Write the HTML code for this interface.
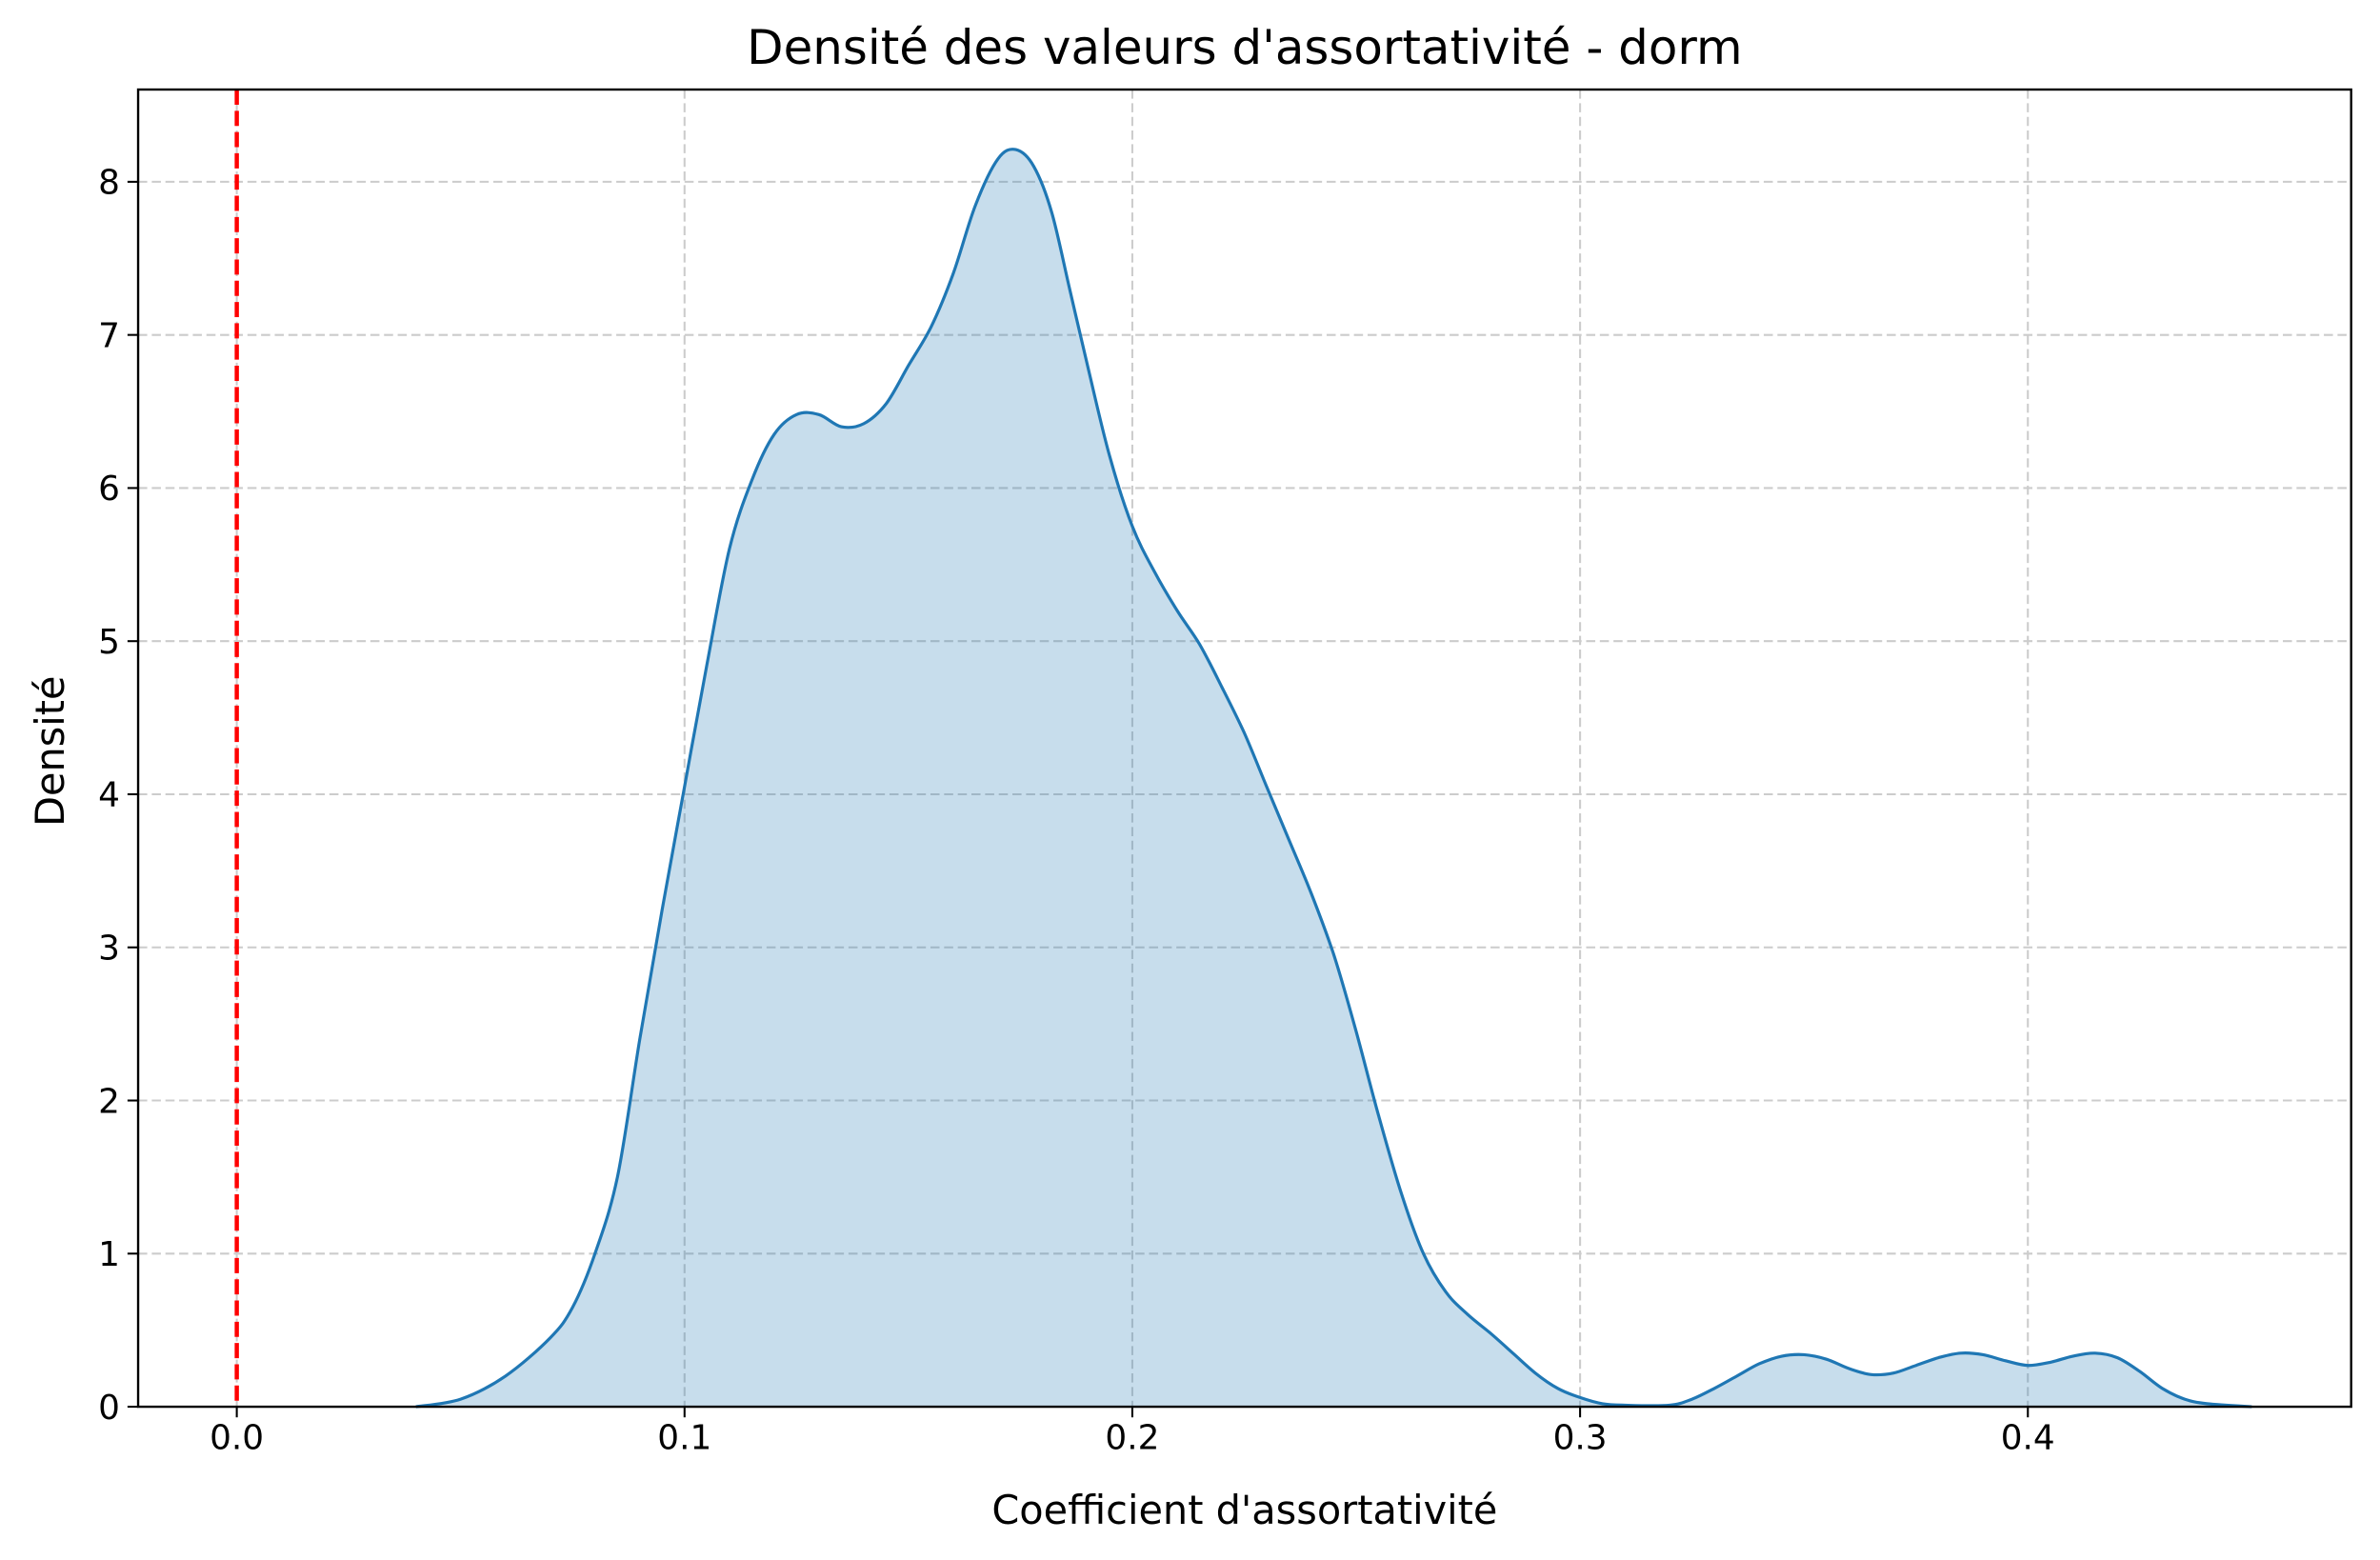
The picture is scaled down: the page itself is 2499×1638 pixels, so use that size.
<!DOCTYPE html>
<html><head><meta charset="utf-8"><style>
html,body{margin:0;padding:0;background:#fff;}
svg{display:block;font-family:"DejaVu Sans","Liberation Sans",sans-serif;}
</style></head><body>
<svg id="chart" width="2499" height="1638" viewBox="0 0 1568 1028" preserveAspectRatio="none" xmlns="http://www.w3.org/2000/svg">
<rect width="1568" height="1028" fill="#fff"/>
<g id="grid"></g>
<g id="marks"></g>
<g id="axes"></g>
<text x="820" y="42" text-anchor="middle" font-size="31.3">Densité des valeurs d'assortativité - dorm</text>
<text x="820" y="1004" text-anchor="middle" font-size="26">Coefficient d'assortativité</text>
<text transform="translate(42,495) rotate(-90)" text-anchor="middle" font-size="26">Densité</text>
</svg>
<script>
const xTicks = [0.0, 0.1, 0.2, 0.3, 0.4];
const xTickLabels = ["0.0", "0.1", "0.2", "0.3", "0.4"];
const yTicks = [0, 1, 2, 3, 4, 5, 6, 7, 8];
const densityX = [0.04,0.05,0.06,0.07,0.075,0.08,0.085,0.09,0.095,0.1,0.105,0.11,0.115,0.12,0.125,0.13,0.135,0.14,0.145,0.15,0.155,0.16,0.165,0.17,0.174,0.178,0.182,0.186,0.19,0.195,0.2,0.205,0.21,0.215,0.22,0.225,0.23,0.235,0.24,0.245,0.25,0.255,0.26,0.265,0.27,0.275,0.28,0.285,0.29,0.295,0.3,0.305,0.31,0.32,0.325,0.33,0.335,0.34,0.345,0.35,0.355,0.36,0.365,0.37,0.375,0.38,0.385,0.39,0.395,0.4,0.405,0.41,0.415,0.42,0.425,0.43,0.435,0.44,0.45];
const densityY = [0,0.05,0.2,0.45,0.65,1.0,1.5,2.4,3.25,4.05,4.85,5.6,6.05,6.35,6.48,6.48,6.4,6.42,6.55,6.8,7.05,7.4,7.85,8.15,8.21,8.1,7.8,7.3,6.8,6.2,5.75,5.45,5.2,4.98,4.7,4.4,4.05,3.7,3.35,2.95,2.45,1.9,1.4,1.0,0.75,0.6,0.48,0.35,0.22,0.12,0.06,0.02,0.01,0.01,0.05,0.12,0.2,0.28,0.33,0.34,0.31,0.25,0.21,0.22,0.27,0.32,0.35,0.34,0.3,0.27,0.29,0.33,0.35,0.32,0.23,0.12,0.05,0.02,0];
const refLineX = [0];

const L=91,R=1549,T=59,B=927;
const sx=v=>156+(v-0)*2950;
const sy=v=>B-v*100.9;
const NS="http://www.w3.org/2000/svg";
function mk(tag,attrs,parent){const e=document.createElementNS(NS,tag);for(const k in attrs)e.setAttribute(k,attrs[k]);parent.appendChild(e);return e;}
const grid=document.getElementById('grid'),marks=document.getElementById('marks'),axes=document.getElementById('axes');
xTicks.forEach((t,i)=>{
  const g=mk('line',{x1:sx(t),x2:sx(t),y1:T,y2:B,stroke:'#cccccc','stroke-width':1.3,'stroke-dasharray':'6,3'},grid);
  
  
  const tk=mk('line',{x1:sx(t),x2:sx(t),y1:B,y2:B+7,stroke:'#000','stroke-width':1.3},axes);
  
  
  const lb=mk('text',{x:sx(t),y:B+28,'text-anchor':'middle','font-size':22.5},axes);
  lb.textContent=xTickLabels[i];
  
  
});
yTicks.forEach(t=>{
  if(t>0){const g=mk('line',{x1:L,x2:R,y1:sy(t),y2:sy(t),stroke:'#cccccc','stroke-width':1.3,'stroke-dasharray':'6,3'},grid);
  
  }
  const tk=mk('line',{x1:L-7,x2:L,y1:sy(t),y2:sy(t),stroke:'#000','stroke-width':1.3},axes);
  
  
  const lb=mk('text',{x:L-12,y:sy(t)+8,'text-anchor':'end','font-size':22.5},axes);
  lb.textContent=String(t);
  
  
});
const P=densityX.map((x,i)=>[sx(x),sy(densityY[i])]);
let d='M'+P[0][0]+','+P[0][1];
for(let i=0;i<P.length-1;i++){
  const p0=P[Math.max(0,i-1)],p1=P[i],p2=P[i+1],p3=P[Math.min(P.length-1,i+2)];
  const c1=[p1[0]+(p2[0]-p0[0])/6,p1[1]+(p2[1]-p0[1])/6];
  const c2=[p2[0]-(p3[0]-p1[0])/6,p2[1]-(p3[1]-p1[1])/6];
  d+=' C'+c1[0].toFixed(1)+','+c1[1].toFixed(1)+' '+c2[0].toFixed(1)+','+c2[1].toFixed(1)+' '+p2[0].toFixed(1)+','+p2[1].toFixed(1);
}
const area=mk('path',{d:d+' L'+P[P.length-1][0]+','+B+' L'+P[0][0]+','+B+' Z',fill:'#1f77b4','fill-opacity':0.25,stroke:'none'},marks);


const line=mk('path',{d:d,fill:'none',stroke:'#1f77b4','stroke-width':2,'stroke-linejoin':'round'},marks);


refLineX.forEach(v=>{
  const r=mk('line',{x1:sx(v),x2:sx(v),y1:T,y2:B,stroke:'#ff0000','stroke-width':2.8,'stroke-dasharray':'10,4'},marks);
  
  
});
const frame=mk('rect',{x:L,y:T,width:R-L,height:B-T,fill:'none',stroke:'#000','stroke-width':1.5},axes);


</script>
</body></html>
